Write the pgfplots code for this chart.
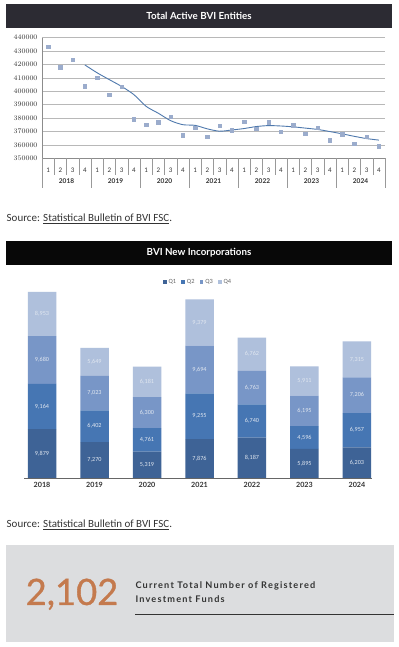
\documentclass[border=0pt]{standalone}
\usepackage{pgfplots}
\pgfplotsset{compat=1.18}
\usepackage{fontspec}
\setmainfont{Carlito}
\newfontfamily\lato{Lato}
\newfontfamily\latomed[FakeBold=0.9]{Lato}
\newfontfamily\latosp[LetterSpace=13]{Lato}
\definecolor{qa}{RGB}{62,99,150}
\definecolor{qb}{RGB}{70,118,179}
\definecolor{qc}{RGB}{120,150,199}
\definecolor{qd}{RGB}{175,192,220}
\definecolor{barone}{RGB}{44,43,51}
\definecolor{bartwo}{RGB}{8,8,8}
\definecolor{boxgray}{RGB}{220,221,223}
\definecolor{orng}{RGB}{196,122,78}
\definecolor{mk}{RGB}{155,172,204}
\definecolor{trend}{RGB}{79,121,173}
\definecolor{txt}{RGB}{51,51,51}
\definecolor{lbl}{RGB}{225,231,240}
\begin{document}
\begin{tikzpicture}[x=1bp,y=1bp]
\fill[white] (0,0) rectangle (398,647);
% ---------- title bar 1
\fill[barone] (6,619.3) rectangle (392,643);
\node[text=white, font=\lato\bfseries\fontsize{9.8}{11}\selectfont] at (199,631) {Total Active BVI Entities};
% ---------- line chart
\begin{axis}[at={(42bp,488.7bp)}, anchor=south west, scale only axis,
  width=343bp, height=120.6bp,
  xmin=0.5, xmax=28.5, ymin=350000, ymax=440000,
  ytick distance=10000,
  scaled y ticks=false,
  axis lines*=left, axis line style={black!45},
  ymajorgrids, grid style={black!28, line width=0.6bp},
  major tick length=0pt,
  xtick={1,...,28},
  xticklabels={1,2,3,4,1,2,3,4,1,2,3,4,1,2,3,4,1,2,3,4,1,2,3,4,1,2,3,4},
  xticklabel style={anchor=center, yshift=-11.7bp, font=\fontsize{7}{8}\selectfont, text=txt},
  yticklabel style={font=\fontsize{7.3}{8}\selectfont, text=txt, xshift=-1bp,
     /pgf/number format/fixed, /pgf/number format/1000 sep={}},
  clip=false]
\addplot[only marks, mark=square*, mark size=1.7bp, color=mk] coordinates {
(1,433500)(2,418000)(3,423500)(4,403700)
(5,410000)(6,397500)(7,403300)(8,379300)
(9,375000)(10,376800)(11,381200)(12,367300)
(13,373000)(14,366300)(15,374200)(16,371000)
(17,377300)(18,372300)(19,377000)(20,369800)
(21,374800)(22,368500)(23,373000)(24,363500)
(25,368000)(26,361000)(27,366300)(28,359000)};
\addplot[trend, line width=0.9bp, smooth, tension=0.45] coordinates {
(4,419675)(5,413800)(6,408675)(7,403625)(8,397525)(9,388775)(10,383600)
(11,378075)(12,375075)(13,374575)(14,371950)(15,370200)(16,371125)
(17,372200)(18,373700)(19,374400)(20,374100)(21,373475)(22,372525)
(23,371525)(24,369950)(25,368250)(26,366375)(27,364700)(28,363575)};
\pgfplotsinvokeforeach{1.5,2.5,3.5,5.5,6.5,7.5,9.5,10.5,11.5,13.5,14.5,15.5,17.5,18.5,19.5,21.5,22.5,23.5,25.5,26.5,27.5}{
  \draw[black!40, line width=0.5bp] (axis cs:#1,350000) -- ([yshift=-16.7bp]axis cs:#1,350000);}
\pgfplotsinvokeforeach{0.5,4.5,8.5,12.5,16.5,20.5,24.5,28.5}{
  \draw[black!40, line width=0.5bp] (axis cs:#1,350000) -- ([yshift=-30bp]axis cs:#1,350000);}
\node[font=\lato\bfseries\fontsize{6.6}{7}\selectfont, text=txt] at ([yshift=-22.4bp]axis cs:2.5,350000) {2018};
\node[font=\lato\bfseries\fontsize{6.6}{7}\selectfont, text=txt] at ([yshift=-22.4bp]axis cs:6.5,350000) {2019};
\node[font=\lato\bfseries\fontsize{6.6}{7}\selectfont, text=txt] at ([yshift=-22.4bp]axis cs:10.5,350000) {2020};
\node[font=\lato\bfseries\fontsize{6.6}{7}\selectfont, text=txt] at ([yshift=-22.4bp]axis cs:14.5,350000) {2021};
\node[font=\lato\bfseries\fontsize{6.6}{7}\selectfont, text=txt] at ([yshift=-22.4bp]axis cs:18.5,350000) {2022};
\node[font=\lato\bfseries\fontsize{6.6}{7}\selectfont, text=txt] at ([yshift=-22.4bp]axis cs:22.5,350000) {2023};
\node[font=\lato\bfseries\fontsize{6.6}{7}\selectfont, text=txt] at ([yshift=-22.4bp]axis cs:26.5,350000) {2024};
\end{axis}
% ---------- source 1
\node[anchor=west, inner sep=0pt, text=txt, font=\fontsize{11}{12}\selectfont] at (6.5,428) {Source: \underline{Statistical Bulletin of BVI FSC}.};
% ---------- title bar 2
\fill[bartwo] (6,382.3) rectangle (392,406.3);
\node[text=white, font=\lato\bfseries\fontsize{9.8}{11}\selectfont] at (199,394.3) {BVI New Incorporations};
% ---------- bar chart
\begin{axis}[at={(24bp,169bp)}, anchor=south west, scale only axis,
  width=348bp, height=187.6bp,
  xmin=-0.343, xmax=6.286, ymin=0, ymax=38000,
  ybar stacked, bar width=28.5bp,
  axis x line*=bottom, axis y line=none,
  axis line style={black!60, line width=0.8bp},
  major tick length=0pt,
  xtick={0,...,6},
  xticklabels={2018,2019,2020,2021,2022,2023,2024},
  xticklabel style={anchor=center, yshift=-7bp, font=\lato\bfseries\fontsize{7.2}{8}\selectfont, text=txt},
  legend style={at={(0.5,1)}, anchor=south, yshift=1.5bp, draw=none, fill=none,
    font=\fontsize{6.4}{7}\selectfont, text=black!60, legend columns=4,
    /tikz/every even column/.append style={column sep=3bp}},
  legend image code/.code={\fill[#1] (0bp,-1.9bp) rectangle (3.8bp,1.9bp);},
  clip=false]
\addplot[fill=qa, draw=none] coordinates {(0,9879)(1,7270)(2,5319)(3,7876)(4,8187)(5,5895)(6,6203)};
\addplot[fill=qb, draw=none] coordinates {(0,9164)(1,6402)(2,4761)(3,9255)(4,6740)(5,4596)(6,6957)};
\addplot[fill=qc, draw=none] coordinates {(0,9680)(1,7023)(2,6300)(3,9694)(4,6763)(5,6195)(6,7206)};
\addplot[fill=qd, draw=none] coordinates {(0,8953)(1,5649)(2,6181)(3,9379)(4,6762)(5,5911)(6,7315)};
\legend{Q1,Q2,Q3,Q4}
\end{axis}
% labels of the segments
\begin{axis}[at={(24bp,169bp)}, anchor=south west, scale only axis,
  width=348bp, height=187.6bp,
  xmin=-0.343, xmax=6.286, ymin=0, ymax=38000,
  axis lines=none, ticks=none, clip=false]
\addplot[only marks, mark=*, mark size=0pt, mark options={draw=none, fill=none, opacity=0},
  nodes near coords, point meta=explicit symbolic,
  nodes near coords style={anchor=center, inner sep=0pt, opacity=1, font=\fontsize{6.2}{7}\selectfont, text=lbl}]
  table[meta=lab] {
x y lab
0 4939.5 9,879
0 14461 9,164
0 23883 9,680
0 33199.5 8,953
1 3635 7,270
1 10471 6,402
1 17183.5 7,023
1 23519.5 5,649
2 2659.5 5,319
2 7699.5 4,761
2 13230 6,300
2 19470.5 6,181
3 3938 7,876
3 12503.5 9,255
3 21978 9,694
3 31514.5 9,379
4 4093.5 8,187
4 11557 6,740
4 18308.5 6,763
4 25071 6,762
5 2947.5 5,895
5 8193 4,596
5 13588.5 6,195
5 19641.5 5,911
6 3101.5 6,203
6 9681.5 6,957
6 16763 7,206
6 24023.5 7,315
};
\end{axis}
% ---------- source 2
\node[anchor=west, inner sep=0pt, text=txt, font=\fontsize{11}{12}\selectfont] at (6.5,122) {Source: \underline{Statistical Bulletin of BVI FSC}.};
% ---------- info box
\fill[boxgray] (6,5.3) rectangle (394,102);
\node[anchor=base west, inner sep=0pt, text=orng, font=\latomed\fontsize{36.5}{37}\selectfont] at (25.5,42) {2,102};
\node[anchor=west, inner sep=0pt, text=txt, font=\latosp\bfseries\fontsize{9.2}{10}\selectfont] at (135.3,61) {Current Total Number of Registered};
\node[anchor=west, inner sep=0pt, text=txt, font=\latosp\bfseries\fontsize{9.2}{10}\selectfont] at (135.3,47.7) {Investment Funds};
\draw[txt, line width=1.2bp] (135.3,32.7) -- (394,32.7);
\end{tikzpicture}
\end{document}
